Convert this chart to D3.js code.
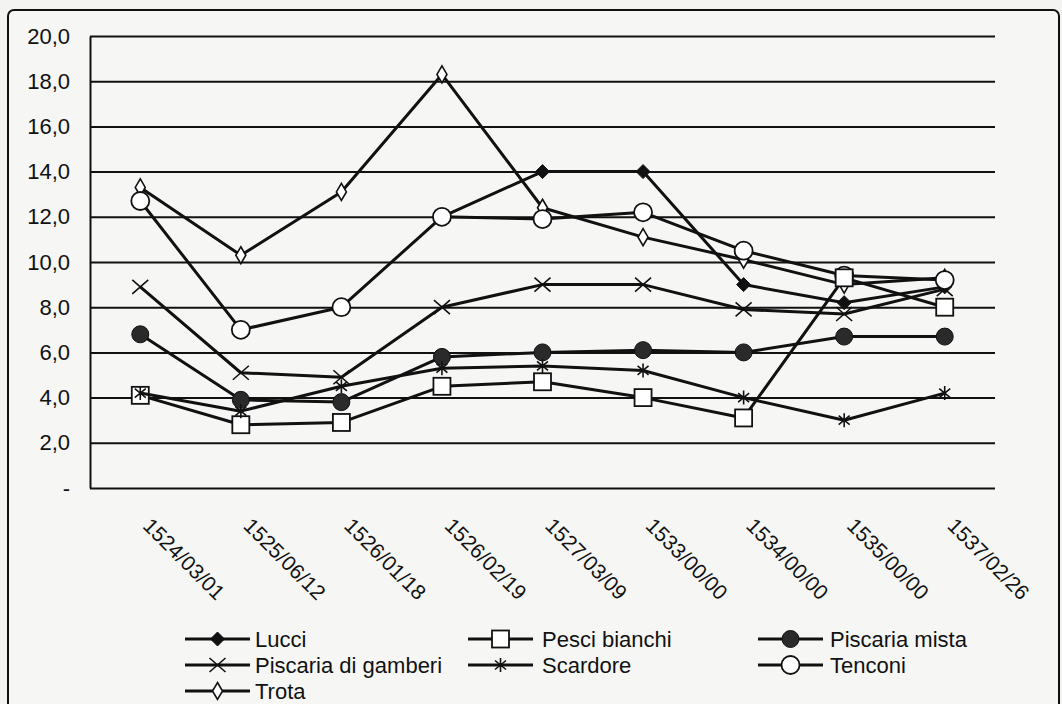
<!DOCTYPE html>
<html>
<head>
<meta charset="utf-8">
<script src="https://cdn.jsdelivr.net/npm/d3@7"></script>
<style>
  html, body { margin: 0; padding: 0; background: #f3f3f2; }
  svg { display: block; }
  text { font-family: "Liberation Sans", Arial, Helvetica, sans-serif; fill: #111; }
</style>
</head>
<body>
<svg id="chart" width="1062" height="704"></svg>
<script>
// ---- data ----
const categories = ["1524/03/01","1525/06/12","1526/01/18","1526/02/19","1527/03/09","1533/00/00","1534/00/00","1535/00/00","1537/02/26"];
const lucci           = [null, null, null, 12.0, 14.0, 14.0, 9.0, 8.2, 8.9];
const pesciBianchi    = [4.1, 2.8, 2.9, 4.5, 4.7, 4.0, 3.1, 9.3, 8.0];
const piscariaMista   = [6.8, 3.9, 3.8, 5.8, 6.0, 6.1, 6.0, 6.7, 6.7];
const piscariaGamberi = [8.9, 5.1, 4.9, 8.0, 9.0, 9.0, 7.9, 7.7, 8.8];
const scardore        = [4.2, 3.4, 4.5, 5.3, 5.4, 5.2, 4.0, 3.0, 4.2];
const tenconi         = [12.7, 7.0, 8.0, 12.0, 11.9, 12.2, 10.5, 9.4, 9.2];
const trota           = [13.3, 10.3, 13.1, 18.3, 12.4, 11.1, 10.1, 9.0, 9.3];
const yTickValues = [0, 2, 4, 6, 8, 10, 12, 14, 16, 18, 20];
const yTickLabels = ["-", "2,0", "4,0", "6,0", "8,0", "10,0", "12,0", "14,0", "16,0", "18,0", "20,0"];

const series = [
  { name: "Lucci", values: lucci, marker: "filledDiamond" },
  { name: "Pesci bianchi", values: pesciBianchi, marker: "square" },
  { name: "Piscaria mista", values: piscariaMista, marker: "filledCircle" },
  { name: "Piscaria di gamberi", values: piscariaGamberi, marker: "x" },
  { name: "Scardore", values: scardore, marker: "asterisk" },
  { name: "Tenconi", values: tenconi, marker: "openCircle" },
  { name: "Trota", values: trota, marker: "tallDiamond" }
];
// drawing order in plot (bottom to top)
const drawOrder = ["Trota", "Piscaria di gamberi", "Lucci", "Tenconi", "Piscaria mista", "Pesci bianchi", "Scardore"];
// legend layout (column-major as in the reference)
const legendOrder = [
  ["Lucci", "Piscaria di gamberi", "Trota"],
  ["Pesci bianchi", "Scardore"],
  ["Piscaria mista", "Tenconi"]
];

// ---- layout ----
const svg = d3.select("#chart");
const plot = { left: 90, right: 995, top: 36, bottom: 488 };

svg.append("rect")
  .attr("x", 8).attr("y", 10).attr("width", 1051).attr("height", 730)
  .attr("rx", 6)
  .attr("fill", "#f6f6f5").attr("stroke", "#111").attr("stroke-width", 2);

const x = d3.scalePoint().domain(categories).range([plot.left, plot.right]).padding(0.5);
const y = d3.scaleLinear().domain([0, 20]).range([plot.bottom, plot.top]);

// y axis with gridlines
const yAxis = d3.axisLeft(y)
  .tickValues(yTickValues)
  .tickFormat((d, i) => yTickLabels[i])
  .tickSizeInner(-(plot.right - plot.left))
  .tickSizeOuter(0)
  .tickPadding(20);

const gy = svg.append("g").attr("transform", `translate(${plot.left},0)`).call(yAxis);
gy.select(".domain").attr("stroke", "#111").attr("stroke-width", 2);
gy.selectAll(".tick line").attr("stroke", "#111").attr("stroke-width", 2);
gy.selectAll(".tick text").attr("font-size", 22).attr("fill", "#111");

// x axis (labels only)
const xAxis = d3.axisBottom(x).tickSize(0).tickPadding(0);
const gx = svg.append("g").attr("transform", `translate(0,${plot.bottom})`).call(xAxis);
gx.select(".domain").remove();
gx.selectAll(".tick text")
  .attr("font-size", 21)
  .attr("fill", "#111")
  .attr("text-anchor", "start")
  .attr("y", 0).attr("dy", 0)
  .attr("transform", "translate(1,39) rotate(45)");

// ---- markers ----
function drawMarker(g, type, cx, cy) {
  const m = g.append("g").attr("transform", `translate(${cx},${cy})`);
  switch (type) {
    case "filledDiamond":
      m.append("path").attr("d", "M0,-7L7,0L0,7L-7,0Z").attr("fill", "#111").attr("stroke", "#111").attr("stroke-width", 1);
      break;
    case "tallDiamond":
      m.append("path").attr("d", "M0,-8.5L5,0L0,8.5L-5,0Z").attr("fill", "#fff").attr("stroke", "#111").attr("stroke-width", 1.6);
      break;
    case "square":
      m.append("rect").attr("x", -8.5).attr("y", -8.5).attr("width", 17).attr("height", 17)
        .attr("fill", "#fff").attr("stroke", "#111").attr("stroke-width", 1.8);
      break;
    case "filledCircle":
      m.append("circle").attr("r", 8.5).attr("fill", "#2a2a2a").attr("stroke", "#111").attr("stroke-width", 1);
      break;
    case "openCircle":
      m.append("circle").attr("r", 9).attr("fill", "#fff").attr("stroke", "#111").attr("stroke-width", 1.8);
      break;
    case "x":
      m.append("path").attr("d", "M-8,-7L8,7M-8,7L8,-7").attr("fill", "none").attr("stroke", "#111").attr("stroke-width", 1.6);
      break;
    case "asterisk":
      m.append("path").attr("d", "M0,-7L0,7M-5.5,-4.5L5.5,4.5M-5.5,4.5L5.5,-4.5").attr("fill", "none").attr("stroke", "#111").attr("stroke-width", 1.6);
      break;
  }
}

// ---- series ----
const line = d3.line()
  .defined(d => d.v !== null)
  .x(d => x(d.c))
  .y(d => y(d.v));

const plotG = svg.append("g");
drawOrder.forEach(name => {
  const s = series.find(t => t.name === name);
  const pts = s.values.map((v, i) => ({ c: categories[i], v }));
  const g = plotG.append("g");
  g.append("path").attr("d", line(pts))
    .attr("fill", "none").attr("stroke", "#111").attr("stroke-width", 3)
    .attr("stroke-linejoin", "round");
  pts.filter(p => p.v !== null).forEach(p => drawMarker(g, s.marker, x(p.c), y(p.v)));
});

// ---- legend ----
const legendCols = [
  { lineX: 185, textX: 255 },
  { lineX: 468, textX: 542 },
  { lineX: 758, textX: 830 }
];
const legendRowY = [639, 665, 691];
const lg = svg.append("g");
legendOrder.forEach((col, ci) => {
  col.forEach((name, ri) => {
    const s = series.find(t => t.name === name);
    const ly = legendRowY[ri];
    const lx = legendCols[ci].lineX;
    lg.append("line").attr("x1", lx).attr("x2", lx + 65).attr("y1", ly).attr("y2", ly)
      .attr("stroke", "#111").attr("stroke-width", 3);
    drawMarker(lg, s.marker, lx + 32.5, ly);
    lg.append("text").attr("x", legendCols[ci].textX).attr("y", ly).attr("dy", "0.36em")
      .attr("font-size", 22).text(name);
  });
});
</script>
</body>
</html>
